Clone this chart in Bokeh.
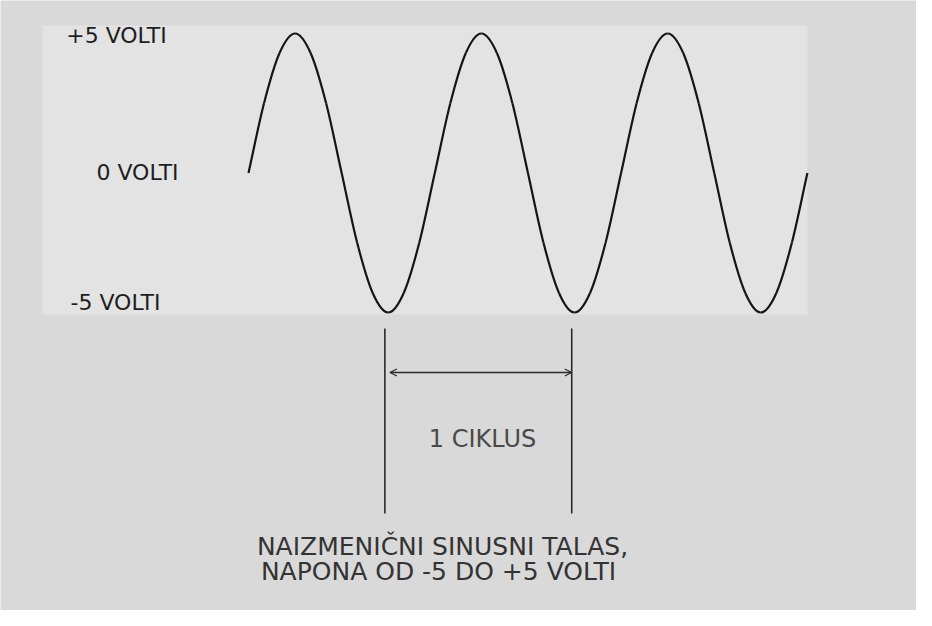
from bokeh.plotting import figure
from bokeh.models import Arrow, OpenHead, Range1d
from bokeh.core.properties import value
from bokeh.embed import file_html
from bokeh.resources import INLINE

# ---- data ----
# phase of the wave in degrees and voltage at that phase (3 full cycles)
phase_deg = [0, 30, 60, 90, 120, 150, 180, 210, 240, 270, 300, 330,
             360, 390, 420, 450, 480, 510, 540, 570, 600, 630, 660, 690,
             720, 750, 780, 810, 840, 870, 900, 930, 960, 990, 1020, 1050,
             1080]
voltage = [0, 2.5, 4.3, 5, 4.3, 2.5, 0, -2.5, -4.3, -5, -4.3, -2.5,
           0, 2.5, 4.3, 5, 4.3, 2.5, 0, -2.5, -4.3, -5, -4.3, -2.5,
           0, 2.5, 4.3, 5, 4.3, 2.5, 0, -2.5, -4.3, -5, -4.3, -2.5,
           0]
level_labels = ["+5 VOLTI", "0 VOLTI", "-5 VOLTI"]
cycle_label = "1 CIKLUS"
caption = ["NAIZMENIČNI SINUSNI TALAS,", "NAPONA OD -5 DO +5 VOLTI"]

# ---- layout helpers (reference pixel -> data units) ----
X0, PER = 248.0, 186.3      # screen x of phase 0, pixels per cycle
Y0, PPV = 172.5, 27.9       # screen y of 0 V, pixels per volt
def sx(X):
    return (X - X0) / PER
def sy(Y):
    return (Y0 - Y) / PPV

W, H = 916, 610
p = figure(width=W, height=H, output_backend="svg", toolbar_location=None,
           x_range=Range1d(sx(0), sx(W)), y_range=Range1d(sy(H), sy(0)),
           min_border=0, x_axis_location=None, y_axis_location=None)
p.grid.visible = False
p.outline_line_color = None
p.background_fill_color = "#d9d9d9"
p.border_fill_color = "#d9d9d9"

# lighter pasted panel of the scan
p.quad(left=[sx(42)], right=[sx(807)], top=[sy(25)], bottom=[sy(314)],
       fill_color="#e3e3e3", line_color=None)

# ---- smooth wave through the readings (Catmull-Rom -> cubic Bezier) ----
xs = [d / 360.0 for d in phase_deg]
ys = list(voltage)
n = len(xs)
px = [2 * xs[0] - xs[1]] + xs + [2 * xs[-1] - xs[-2]]
py = [2 * ys[0] - ys[1]] + ys + [2 * ys[-1] - ys[-2]]
x0, y0, x1, y1, cx0, cy0, cx1, cy1 = [], [], [], [], [], [], [], []
for i in range(1, n):
    a, b, c, d = i - 1, i, i + 1, i + 2
    x0.append(px[b]); y0.append(py[b]); x1.append(px[c]); y1.append(py[c])
    cx0.append(px[b] + (px[c] - px[a]) / 6.0)
    cy0.append(py[b] + (py[c] - py[a]) / 6.0)
    cx1.append(px[c] - (px[d] - px[b]) / 6.0)
    cy1.append(py[c] - (py[d] - py[b]) / 6.0)
p.bezier(x0=x0, y0=y0, x1=x1, y1=y1, cx0=cx0, cy0=cy0, cx1=cx1, cy1=cy1,
         line_color="#151515", line_width=2.2)

# ---- one-cycle markers at the first two troughs ----
troughs = [xs[i] for i, v in enumerate(voltage) if v == min(voltage)]
t1, t2 = troughs[0] - 0.018, troughs[1] - 0.015
p.segment(x0=[t1, t2], y0=[sy(328), sy(328)], x1=[t1, t2], y1=[sy(513), sy(513)],
          line_color="#2a2a2a", line_width=1.6)
p.add_layout(Arrow(end=OpenHead(size=7, line_color="#2a2a2a", line_width=1.2),
                   start=OpenHead(size=7, line_color="#2a2a2a", line_width=1.2),
                   x_start=t1 + 5 / PER, y_start=sy(372), x_end=t2, y_end=sy(372),
                   line_color="#2a2a2a", line_width=1.6))

# ---- texts ----
FONT = value("DejaVu Sans")
p.text(x=[sx(116), sx(137), sx(115)], y=[sy(35), sy(172), sy(302)], text=level_labels,
       text_font=FONT, text_font_size="22px", text_color="#1e1e1e",
       text_align="center", text_baseline="middle")
p.text(x=[sx(482)], y=[sy(438)], text=[cycle_label],
       text_font=FONT, text_font_size="24px", text_color="#4a4a4a",
       text_align="center", text_baseline="middle")
p.text(x=[sx(442), sx(438)], y=[sy(546), sy(571)], text=caption,
       text_font=FONT, text_font_size="25px", text_color="#333333",
       text_align="center", text_baseline="middle")

open("out.html", "w").write(file_html(p, INLINE))
